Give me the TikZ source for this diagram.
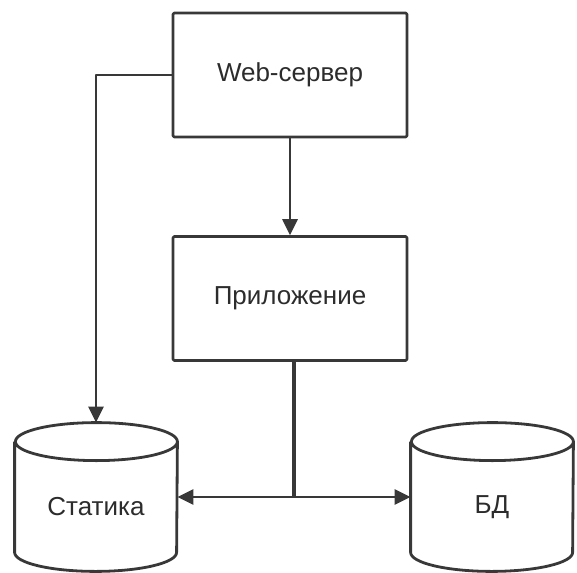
\documentclass[tikz,border=0pt]{standalone}
\usepackage{fontspec}
\setmainfont{Liberation Sans}
\usetikzlibrary{arrows.meta}

\definecolor{linegray}{HTML}{383838}
\definecolor{textgray}{HTML}{2C2C2C}

\begin{document}
\begin{tikzpicture}[x=0.5pt, y=-0.5pt, line join=round,
  every node/.style={font=\fontsize{13}{15}\selectfont, text=textgray},
  block/.style={draw=linegray, line width=1.3pt, minimum width=117pt, minimum height=62pt, rounded corners=0.6pt},
  store/.style={minimum width=81pt, minimum height=74pt, inner sep=0pt},
  link/.style={draw=linegray, line width=1.4pt},
  arrow/.style={link, -{Triangle[length=8pt, width=7.5pt]}}]

  % canvas
  \useasboundingbox (0,0) rectangle (577,572);

  % cylinder end radii
  \def\rx{40.5pt}
  \def\ry{9.5pt}

  % blocks
  \node[block] (web) at (290,75) {Web-сервер};
  \node[block] (app) at (290,298.5) {Приложение};

  % storages
  \node[store, label={[yshift=-5pt]center:Статика}] (stat) at (96,497) {};
  \node[store, label={[yshift=-5pt]center:БД}] (db) at (492,497) {};

  \foreach \s in {stat,db}{
    \draw[link] ([yshift=-\ry]\s.north west) -- ([yshift=\ry]\s.south west)
      arc[start angle=180, end angle=360, x radius=\rx, y radius=\ry]
      -- ([yshift=-\ry]\s.north east)
      arc[start angle=0, end angle=180, x radius=\rx, y radius=\ry]
      arc[start angle=180, end angle=360, x radius=\rx, y radius=\ry];
  }

  % connectors
  \draw[arrow] (web.west) -| (stat.north);
  \draw[arrow] (web.south) -- (app.north);

  \coordinate (split) at ([xshift=2pt]app.south |- stat.east);
  \draw[link, line width=2.4pt] ([xshift=2pt]app.south) -- (split);
  \draw[arrow] (split) -- (stat.east);
  \draw[arrow] (split) -- (db.west);

\end{tikzpicture}
\end{document}
